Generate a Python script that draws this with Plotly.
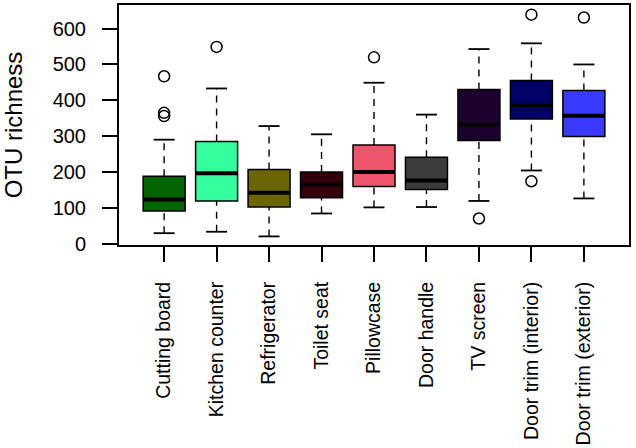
import plotly.graph_objects as go

categories = ["Cutting board", "Kitchen counter", "Refrigerator", "Toilet seat",
              "Pillowcase", "Door handle", "TV screen",
              "Door trim (interior)", "Door trim (exterior)"]
lower_whisker = [29, 33, 20, 84, 101, 102, 119, 204, 126]
q1 = [91, 119, 102, 128, 159, 151, 288, 348, 299]
median = [123, 196, 142, 165, 200, 176, 332, 387, 357]
q3 = [188, 285, 207, 200, 275, 241, 430, 455, 427]
upper_whisker = [290, 433, 328, 305, 449, 360, 543, 559, 500]
outliers = [[467, 365, 356], [549], [], [], [520], [], [70], [639, 174], [631]]
colors = ["#006400", "#33FF9F", "#6B6600", "#36000A", "#F0546D",
          "#3C3C3C", "#1C002E", "#000066", "#3A3AFF"]
y_ticks = [0, 100, 200, 300, 400, 500, 600]

BOX_W = 0.8
STAPLE_W = 0.4
FONT = "Liberation Sans, Arial, sans-serif"

fig = go.Figure()
positions = list(range(1, len(categories) + 1))

for i, pos in enumerate(positions):
    # whiskers (dashed)
    fig.add_trace(go.Scatter(
        x=[pos, pos, None, pos, pos],
        y=[lower_whisker[i], q1[i], None, q3[i], upper_whisker[i]],
        mode="lines", line=dict(color="black", width=1.4, dash="7px,6px"),
        showlegend=False, hoverinfo="skip"))
    # staples
    fig.add_trace(go.Scatter(
        x=[pos - STAPLE_W / 2, pos + STAPLE_W / 2, None, pos - STAPLE_W / 2, pos + STAPLE_W / 2],
        y=[lower_whisker[i], lower_whisker[i], None, upper_whisker[i], upper_whisker[i]],
        mode="lines", line=dict(color="black", width=1.8),
        showlegend=False, hoverinfo="skip"))
    # box body
    fig.add_trace(go.Box(
        x=[pos], q1=[q1[i]], median=[median[i]], q3=[q3[i]],
        lowerfence=[q1[i]], upperfence=[q3[i]],
        width=BOX_W, whiskerwidth=0, fillcolor=colors[i],
        line=dict(color="black", width=1.5), boxpoints=False,
        showlegend=False, hoverinfo="skip"))
    # thick median
    fig.add_trace(go.Scatter(
        x=[pos - BOX_W / 2, pos + BOX_W / 2], y=[median[i], median[i]],
        mode="lines", line=dict(color="black", width=4),
        showlegend=False, hoverinfo="skip"))
    # outliers
    if outliers[i]:
        fig.add_trace(go.Scatter(
            x=[pos] * len(outliers[i]), y=outliers[i], mode="markers",
            marker=dict(symbol="circle-open", size=11, color="black",
                        line=dict(width=1.5, color="black")),
            showlegend=False, hoverinfo="skip"))

fig.update_layout(
    width=636, height=448,
    margin=dict(l=119, r=7, t=5, b=203),
    plot_bgcolor="white", paper_bgcolor="white",
    font=dict(family=FONT, color="black"),
    boxmode="overlay",
)
fig.update_xaxes(
    range=[0.14, 9.86], tickmode="array", tickvals=positions, ticktext=categories,
    tickangle=-90, ticks="outside", ticklen=15, tickwidth=1.5, tickcolor="black",
    tickfont=dict(size=19.5, family=FONT, color="black"),
    showline=True, linecolor="black", linewidth=2, mirror=True,
    showgrid=False, zeroline=False, ticklabelstandoff=12, automargin=False)
fig.update_yaxes(
    range=[-4, 666], tickmode="array", tickvals=y_ticks,
    ticks="outside", ticklen=15, tickwidth=1.5, tickcolor="black",
    tickfont=dict(size=20, family=FONT, color="black"),
    showline=True, linecolor="black", linewidth=2, mirror=True,
    showgrid=False, zeroline=False, ticklabelstandoff=12, automargin=False,
    title=dict(text="OTU richness", font=dict(size=24, family=FONT, color="black"),
               standoff=29))

fig.write_html("out.html", config={"displayModeBar": False},
               post_script="document.body.style.margin='0px';document.body.style.padding='0px';")
